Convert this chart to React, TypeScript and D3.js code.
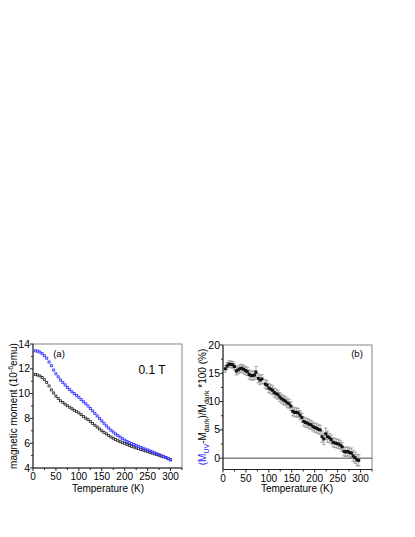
import React from "react";
import * as d3 from "d3";

const tempsA = [5,10,15,20,25,30,35,40,45,50,55,60,65,70,75,80,85,90,95,100,105,110,115,120,125,130,135,140,145,150,155,160,165,170,175,180,185,190,195,200,205,210,215,220,225,230,235,240,245,250,255,260,265,270,275,280,285,290,295,300];
const momentUV = [13.45,13.42,13.35,13.22,13.05,12.85,12.55,12.25,11.9,11.6,11.35,11.1,10.9,10.7,10.5,10.32,10.15,10.0,9.85,9.7,9.52,9.35,9.18,9.0,8.8,8.6,8.4,8.2,8.0,7.8,7.6,7.4,7.22,7.05,6.9,6.75,6.62,6.5,6.37,6.25,6.15,6.05,5.97,5.9,5.82,5.75,5.67,5.6,5.52,5.45,5.38,5.3,5.23,5.15,5.07,5.0,4.92,4.85,4.75,4.65];
const momentDark = [11.55,11.5,11.42,11.3,11.12,10.9,10.62,10.3,10.05,9.8,9.6,9.42,9.28,9.15,9.02,8.9,8.78,8.66,8.55,8.44,8.3,8.15,8.02,7.9,7.75,7.6,7.45,7.3,7.15,7.0,6.87,6.75,6.62,6.5,6.4,6.3,6.2,6.12,6.04,5.97,5.9,5.82,5.75,5.69,5.62,5.56,5.5,5.44,5.38,5.32,5.26,5.2,5.14,5.08,5.02,4.96,4.9,4.83,4.75,4.67];

const tempsB = [5,9,13,17,21,25,29,33,37,41,45,49,53,57,61,65,69,72,77,81,85,92,96,100,104,108,112,116,120,124,128,132,136,140,144,148,152,156,160,164,168,172,176,180,184,188,192,196,200,204,208,212,216,220,224,228,232,236,240,244,248,252,256,260,264,268,272,276,280,284,288,292,296];
const ratio = [15.8,16.3,16.6,16.6,16.5,16.2,15.4,15.6,15.8,15.9,15.7,15.5,15.3,14.8,14.6,14.6,14.7,15.2,14.1,13.8,14.0,13.1,12.9,12.4,12.2,12.0,11.6,11.4,11.2,10.8,10.5,10.3,10.1,9.8,9.6,9.2,8.3,8.1,8.1,8.0,7.6,7.2,6.5,6.3,6.2,6.0,5.9,5.6,5.4,5.3,5.1,5.0,3.8,3.4,4.3,3.8,3.6,3.3,2.8,2.7,2.6,2.5,2.3,2.0,1.2,1.1,1.2,1.0,0.9,0.4,0.1,-0.3,-0.4];
const ratioErr = [0.6,0.6,0.6,0.6,0.6,0.6,0.7,0.7,0.7,0.7,0.7,0.7,0.7,0.8,0.8,0.8,0.8,1.0,0.8,0.8,0.8,0.8,0.8,0.8,0.8,0.8,0.8,0.8,0.8,0.8,0.8,0.8,0.8,0.8,0.8,0.8,0.8,0.8,0.8,0.8,0.8,0.8,0.8,0.8,0.8,0.8,0.8,0.8,0.8,0.8,0.8,0.8,1.0,1.0,1.0,1.0,0.8,0.8,0.8,0.8,0.8,0.8,0.8,0.8,0.8,0.8,0.8,0.8,0.9,1.0,1.0,1.0,1.0];

const xTicks = [0,50,100,150,200,250,300];
const xMinor = [25,75,125,175,225,275,325];
const yTicksA = [4,6,8,10,12,14];
const yMinorA = [5,7,9,11,13];
const yTicksB = [0,5,10,15,20];
const yMinorB = [-2.5,2.5,7.5,12.5,17.5];

const FONT = "Liberation Sans, Arial, sans-serif";

function Frame({ x, y, xt, xm, yt, ym }: any) {
  const [x0, x1] = x.range();
  const [y0, y1] = y.range();
  return (
    <g>
      <rect x={x0} y={y1} width={x1 - x0} height={y0 - y1} fill="none" stroke="#666" strokeWidth={0.8} />
      <line x1={x0} x2={x1} y1={y0} y2={y0} stroke="#222" strokeWidth={1} />
      <line x1={x0} x2={x0} y1={y0} y2={y1} stroke="#222" strokeWidth={1} />
      {xt.map((t: number) => (
        <g key={"xt" + t}>
          <line x1={x(t)} x2={x(t)} y1={y0} y2={y0 + 3} stroke="#222" />
          <text x={x(t)} y={y0 + 12} textAnchor="middle" fontSize={10} fontFamily={FONT}>{t}</text>
        </g>
      ))}
      {xm.filter((t: number) => x(t) <= x1 + 0.5).map((t: number) => (
        <line key={"xm" + t} x1={x(t)} x2={x(t)} y1={y0} y2={y0 + 2} stroke="#222" />
      ))}
      {yt.map((t: number) => (
        <g key={"yt" + t}>
          <line x1={x0 - 3} x2={x0} y1={y(t)} y2={y(t)} stroke="#222" />
          <text x={x0 - 3} y={y(t) + 3.5} textAnchor="end" fontSize={10.5} fontFamily={FONT}>{t}</text>
        </g>
      ))}
      {ym.filter((t: number) => y(t) <= y0 + 0.5).map((t: number) => (
        <line key={"ym" + t} x1={x0 - 2} x2={x0} y1={y(t)} y2={y(t)} stroke="#222" />
      ))}
    </g>
  );
}

export default function App() {
  const xA = d3.scaleLinear().domain([0, 325]).range([33, 182]);
  const yA = d3.scaleLinear().domain([4, 14]).range([468, 344]);
  const xB = d3.scaleLinear().domain([0, 325]).range([223, 372]);
  const yB = d3.scaleLinear().domain([-2, 20]).range([469.5, 345]);
  const s = 2;
  return (
    <svg width={415} height={537} style={{ position: "absolute", left: 0, top: 0 }}>
      <rect width={415} height={537} fill="white" />
      {/* Panel a */}
      <Frame x={xA} y={yA} xt={xTicks} xm={xMinor} yt={yTicksA} ym={yMinorA} />
      {tempsA.map((t, i) => (
        <rect key={"d" + i} x={xA(t) - s / 2} y={yA(momentDark[i]) - s / 2} width={s} height={s} fill="none" stroke="#222" strokeWidth={0.8} />
      ))}
      {tempsA.map((t, i) => (
        <rect key={"u" + i} x={xA(t) - s / 2} y={yA(momentUV[i]) - s / 2} width={s} height={s} fill="none" stroke="#3a3aff" strokeWidth={0.9} />
      ))}
      <text x={59} y={357} textAnchor="middle" fontSize={9.5} fontFamily={FONT}>(a)</text>
      <text x={152} y={374} textAnchor="middle" fontSize={12} fontFamily={FONT}>0.1 T</text>
      <text x={108} y={492} textAnchor="middle" fontSize={10} fontFamily={FONT}>Temperature (K)</text>
      <text transform="translate(17,406) rotate(-90)" textAnchor="middle" fontSize={10} fontFamily={FONT}>
        magnetic moment (10<tspan dy={-4} fontSize={7}>-6</tspan><tspan dy={4}>emu)</tspan>
      </text>

      {/* Panel b */}
      <Frame x={xB} y={yB} xt={xTicks} xm={xMinor} yt={yTicksB} ym={yMinorB} />
      <line x1={xB(0)} x2={xB(325)} y1={yB(0)} y2={yB(0)} stroke="#333" strokeWidth={0.9} />
      {tempsB.map((t, i) => {
        const cx = xB(t);
        const top = yB(ratio[i] + ratioErr[i]);
        const bot = yB(ratio[i] - ratioErr[i]);
        return (
          <g key={"e" + i} stroke="#888" strokeWidth={0.7}>
            <line x1={cx} x2={cx} y1={top} y2={bot} />
            <line x1={cx - 1.8} x2={cx + 1.8} y1={top} y2={top} />
            <line x1={cx - 1.8} x2={cx + 1.8} y1={bot} y2={bot} />
          </g>
        );
      })}
      {tempsB.map((t, i) => (
        <rect key={"p" + i} x={xB(t) - 1.5} y={yB(ratio[i]) - 1.5} width={3} height={3} fill="#111" />
      ))}
      <text x={357} y={357} textAnchor="middle" fontSize={9.5} fontFamily={FONT}>(b)</text>
      <text x={297} y={492} textAnchor="middle" fontSize={10} fontFamily={FONT}>Temperature (K)</text>
      <text transform="translate(206,407) rotate(-90)" textAnchor="middle" fontSize={10} fontFamily={FONT}>
        <tspan fill="#2a2aff">(M</tspan><tspan fill="#2a2aff" dy={3} fontSize={7}>UV</tspan>
        <tspan dy={-3}>-M</tspan><tspan dy={3} fontSize={7}>dark</tspan>
        <tspan dy={-3}>)/M</tspan><tspan dy={3} fontSize={7}>dark</tspan>
        <tspan dy={-3}> *100 (%)</tspan>
      </text>
    </svg>
  );
}
